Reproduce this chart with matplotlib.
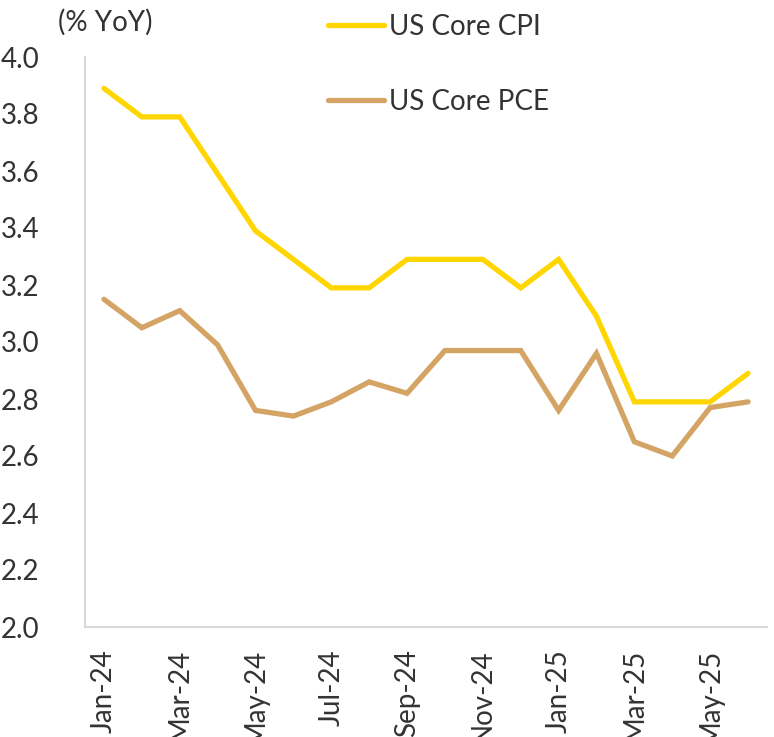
import matplotlib
matplotlib.use("Agg")
import matplotlib.pyplot as plt

months = ["Jan-24", "Feb-24", "Mar-24", "Apr-24", "May-24", "Jun-24", "Jul-24", "Aug-24", "Sep-24",
          "Oct-24", "Nov-24", "Dec-24", "Jan-25", "Feb-25", "Mar-25", "Apr-25", "May-25", "Jun-25"]
core_cpi = [3.89, 3.79, 3.79, 3.59, 3.39, 3.29, 3.19, 3.19, 3.29, 3.29, 3.29, 3.19, 3.29, 3.09, 2.79, 2.79, 2.79, 2.89]
core_pce = [3.15, 3.05, 3.11, 2.99, 2.76, 2.74, 2.79, 2.86, 2.82, 2.97, 2.97, 2.97, 2.76, 2.96, 2.65, 2.60, 2.77, 2.79]
yticks = [2.0, 2.2, 2.4, 2.6, 2.8, 3.0, 3.2, 3.4, 3.6, 3.8, 4.0]

plt.rcParams['font.family'] = ['Lato', 'DejaVu Sans']
txt = '#333333'
fs = 20

fig = plt.figure(figsize=(7.74, 7.37), dpi=100)
ax = fig.add_axes([85/774, 1-627/737, (767-85)/774, (627-57)/737])

x = list(range(len(months)))
ax.plot(x, core_cpi, color='#FFD600', lw=3.8, solid_capstyle='round', solid_joinstyle='miter', label='US Core CPI')
ax.plot(x, core_pce, color='#D4A464', lw=3.8, solid_capstyle='round', solid_joinstyle='miter', label='US Core PCE')

ax.set_xlim(-0.5, len(months) - 0.5)
ax.set_ylim(2.0, 4.0)
ax.set_yticks(yticks)
ax.set_yticklabels([f"{v:.1f}" for v in yticks], fontsize=fs, color=txt)
ax.set_xticks(x[::2])
ax.set_xticklabels(months[::2], rotation=90, fontsize=fs, color=txt, va='top', ha='center')
ax.tick_params(axis='both', length=0)
ax.tick_params(axis='y', pad=33)
ax.tick_params(axis='x', pad=16)

for s in ['top', 'right']:
    ax.spines[s].set_visible(False)
for s in ['left', 'bottom']:
    ax.spines[s].set_color('#D9D9D9')
    ax.spines[s].set_linewidth(1.5)

fig.text(58/774, 1-22/737, "(% YoY)", fontsize=fs, color=txt, ha='left', va='center')

fig.legend(loc='upper left', bbox_to_anchor=(328/774, 1-14/737), frameon=False, fontsize=fs,
           handlelength=2.0, handletextpad=0.2, labelspacing=1.75, borderpad=0, borderaxespad=0,
           labelcolor=txt)

fig.savefig("out.png", dpi=100)
